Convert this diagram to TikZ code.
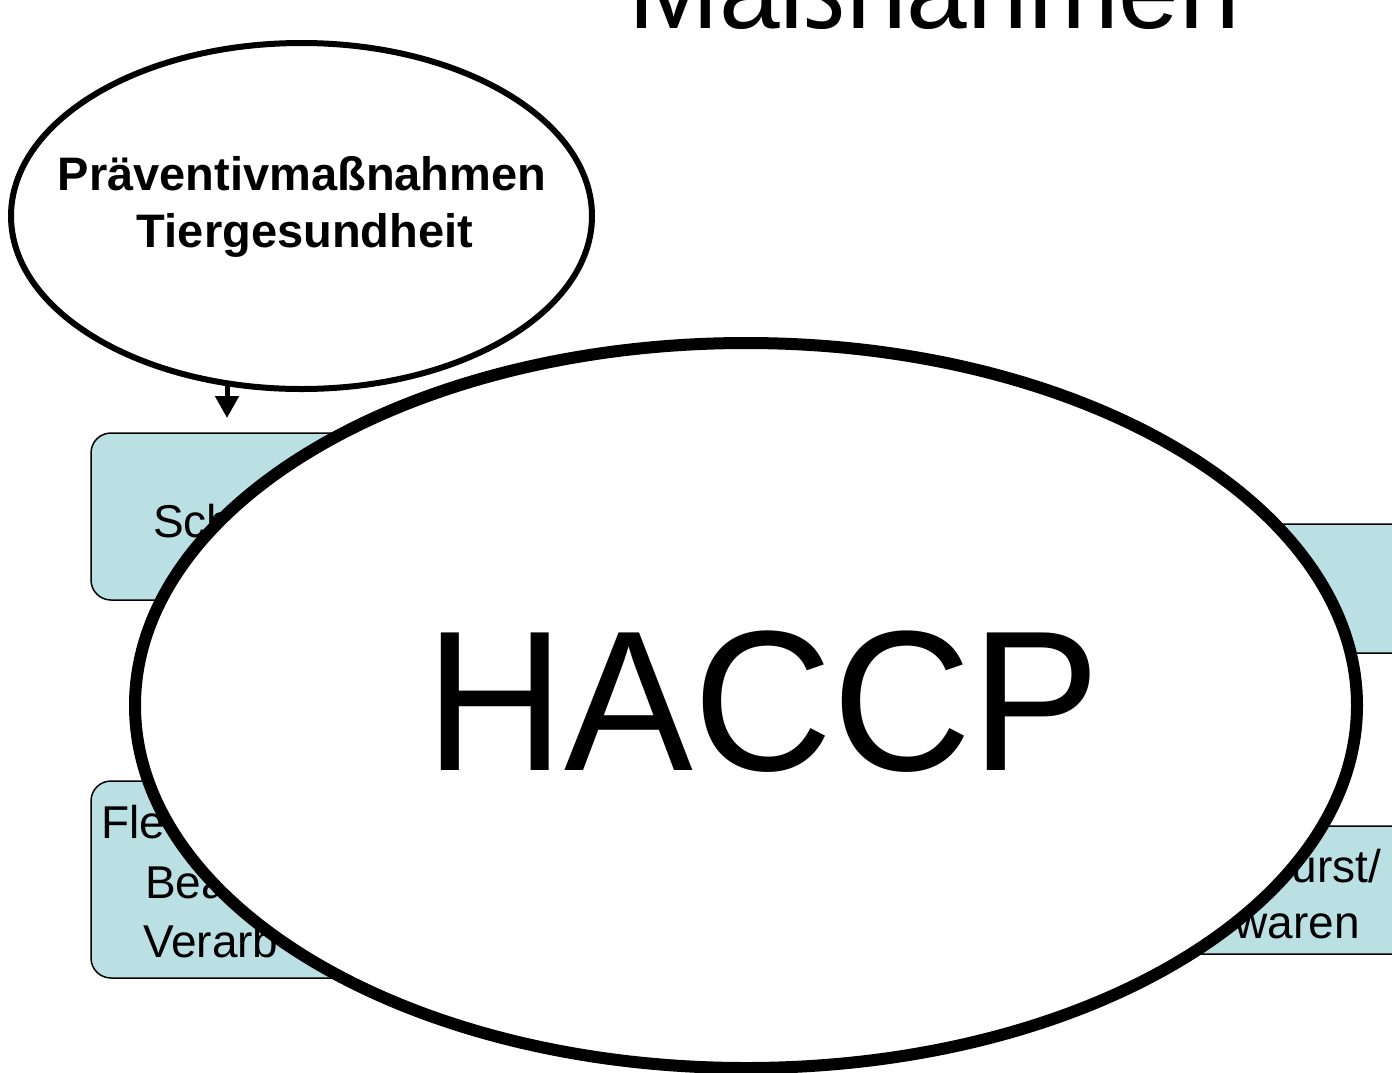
\documentclass[tikz,border=0pt]{standalone}
\usepackage{fontspec}
\setmainfont{Liberation Sans}
\usetikzlibrary{shapes.geometric,arrows.meta}
\definecolor{boxblue}{RGB}{187,224,227}
\tikzset{
  stepbox/.style={draw=black,line width=1.5pt,fill=boxblue,rounded corners=20pt,rectangle,inner sep=0pt},
  boxtext/.style={font=\fontsize{46}{55}\selectfont,inner sep=0pt,outer sep=0pt},
  bigell/.style={ellipse,draw=black,fill=white,inner sep=0pt,outer sep=0pt},
  ptext/.style={font=\bfseries\fontsize{47}{57}\selectfont,inner sep=0pt,anchor=base},
  arr/.style={line width=5pt,-{Triangle[width=23pt,length=22pt]}}
}
\begin{document}
\begin{tikzpicture}[x=1pt,y=-1pt]
\useasboundingbox (0,0) rectangle (1392,1072);
\clip (0,0) rectangle (1392,1072);
\fill[white] (0,0) rectangle (1392,1072);
% boxes
\node[stepbox,minimum width=339pt,minimum height=167pt] (b1) at (260.5,516.5) {};
\node[stepbox,minimum width=339pt,minimum height=197pt] (b2) at (260.5,879.5) {};
\node[stepbox,minimum width=170pt,minimum height=129pt] (b3) at (1335,588.5) {};
\node[stepbox,minimum width=270pt,minimum height=128pt] (b4) at (1285,890) {};
% box texts
\node[boxtext,anchor=base west] (t1) at (153,537) {Sch};
\node[boxtext,anchor=base west] (t2) at (101,838) {Fle};
\node[boxtext,anchor=base west] (t3) at (145,898) {Bea};
\node[boxtext,anchor=base west] (t4) at (143,957) {Verarb};
\node[boxtext,anchor=base east] (t5) at (1381,882) {urst/};
\node[boxtext,anchor=base east] (t6) at (1360,938) {waren};
% big ellipse
\node[bigell,line width=12pt,minimum width=1222pt,minimum height=725pt] (haccp) at (746,705.5) {};
\node[font=\fontsize{200}{240}\selectfont,inner sep=0pt,anchor=base west] (ht) at (425,770) {\scalebox{0.965}[1]{HACCP}};
% left ellipse
\node[bigell,line width=6pt,minimum width=581pt,minimum height=346pt] (pe) at (301.5,216) {};
\node[ptext] (pt1) at (302,190) {Präventivmaßnahmen};
\node[ptext] (pt2) at (305,247) {Tiergesundheit};
% arrow
\coordinate (as) at (227,382);
\coordinate (ae) at (227,418);
\draw[arr] (as) -- (ae);
% title
\node[font=\fontsize{109}{130}\selectfont,inner sep=0pt,anchor=base west] (title) at (628,28) {Maßnahmen};
\end{tikzpicture}
\end{document}
